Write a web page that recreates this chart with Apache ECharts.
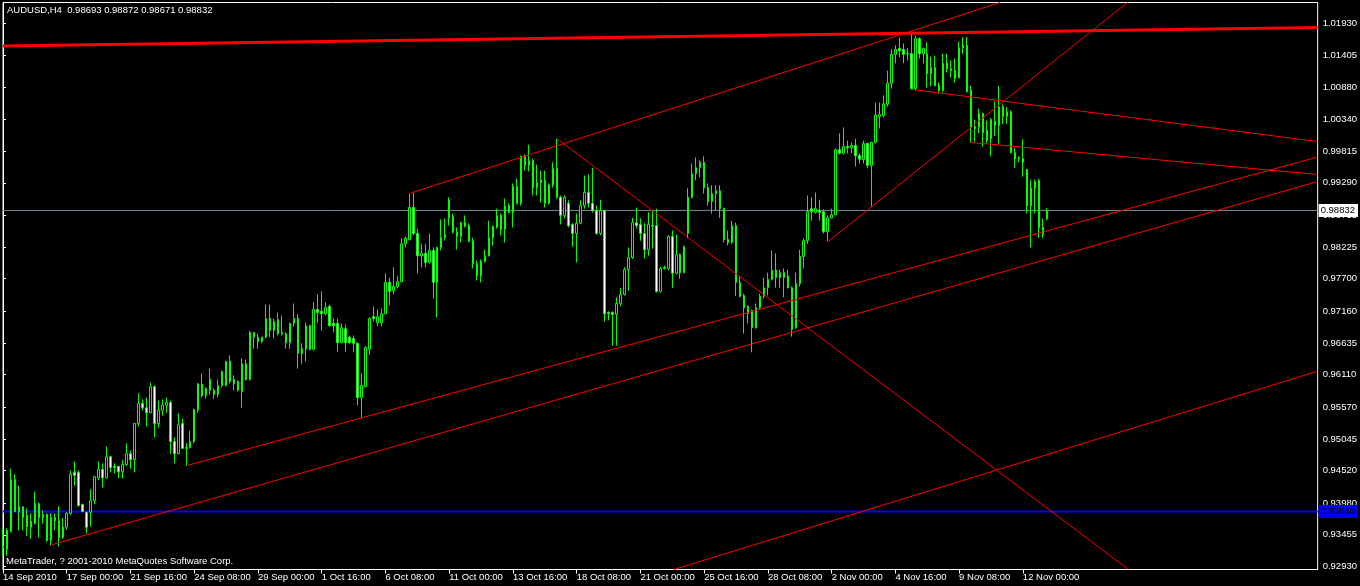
<!DOCTYPE html>
<html><head><meta charset="utf-8">
<script src="https://cdn.jsdelivr.net/npm/echarts@6/dist/echarts.min.js"></script>
<style>html,body{margin:0;padding:0;background:#000;}#c{width:1360px;height:586px;}</style>
</head><body><div id="c"></div>
<script>
const opens = [
0.9328,0.9321,0.9351,0.9437,0.9392,0.9392,0.9378,0.9358,0.9364,0.9397,
0.9379,0.9379,0.9336,0.9374,0.9369,0.9341,0.9358,0.9381,0.9449,0.9449,
0.9396,0.9383,0.9383,0.9402,0.9440,0.9454,0.9440,0.9475,0.9459,0.9459,
0.9450,0.9462,0.9480,0.9470,0.9530,0.9563,0.9556,0.9548,0.9591,0.9530,
0.9552,0.9560,0.9565,0.9500,0.9480,0.9530,0.9489,0.9490,0.9500,0.9552,
0.9595,0.9576,0.9603,0.9578,0.9578,0.9593,0.9593,0.9633,0.9603,0.9600,
0.9583,0.9629,0.9603,0.9681,0.9673,0.9666,0.9673,0.9704,0.9684,0.9702,
0.9681,0.9679,0.9664,0.9696,0.9704,0.9646,0.9653,0.9692,0.9653,0.9719,
0.9716,0.9712,0.9724,0.9696,0.9696,0.9664,0.9687,0.9673,0.9671,0.9663,
0.9573,0.9591,0.9653,0.9707,0.9697,0.9697,0.9712,0.9764,0.9750,0.9757,
0.9765,0.9828,0.9835,0.9888,0.9845,0.9808,0.9812,0.9797,0.9817,0.9764,
0.9822,0.9838,0.9900,0.9873,0.9847,0.9840,0.9863,0.9858,0.9833,0.9795,
0.9775,0.9799,0.9808,0.9838,0.9855,0.9875,0.9852,0.9891,0.9880,0.9923,
0.9895,0.9973,0.9958,0.9966,0.9921,0.9929,0.9933,0.9895,0.9925,0.9953,
0.9905,0.9875,0.9895,0.9860,0.9845,0.9862,0.9891,0.9913,0.9895,0.9883,
0.9845,0.9883,0.9714,0.9714,0.9711,0.9729,0.9744,0.9785,0.9805,0.9863,
0.9860,0.9845,0.9818,0.9858,0.9858,0.9749,0.9787,0.9787,0.9840,0.9779,
0.9810,0.9780,0.9845,0.9905,0.9944,0.9954,0.9963,0.9921,0.9898,0.9911,
0.9916,0.9886,0.9835,0.9830,0.9858,0.9764,0.9742,0.9724,0.9717,0.9689,
0.9722,0.9741,0.9755,0.9769,0.9784,0.9780,0.9780,0.9774,0.9755,0.9689,
0.9762,0.9807,0.9833,0.9886,0.9880,0.9883,0.9881,0.9848,0.9871,0.9876,
0.9984,0.9978,0.9989,0.9987,0.9991,0.9974,0.9968,0.9994,0.9958,0.9996,
1.0039,1.0041,1.0059,1.0094,1.0142,1.0152,1.0150,1.0143,1.0143,1.0085,
1.0168,1.0143,1.0143,1.0110,1.0120,1.0090,1.0082,1.0127,1.0118,1.0115,
1.0103,1.0157,1.0157,1.0082,1.0022,1.0021,1.0044,1.0016,1.0002,1.0024,
1.0024,1.0055,1.0039,1.0047,0.9979,0.9971,0.9969,0.9951,0.9891,0.9920,
0.9933,0.9855,0.98693];
const highs = [
0.9356,0.9356,0.9455,0.9446,0.9427,0.9393,0.9389,0.9381,0.9417,0.9399,
0.9386,0.9381,0.9381,0.9381,0.9393,0.9373,0.9383,0.9452,0.9467,0.9452,
0.9397,0.9383,0.9421,0.9442,0.9467,0.9464,0.9492,0.9477,0.9464,0.9460,
0.9470,0.9497,0.9485,0.9531,0.9580,0.9570,0.9573,0.9598,0.9593,0.9568,
0.9570,0.9573,0.9568,0.9507,0.9547,0.9538,0.9497,0.9518,0.9555,0.9597,
0.9613,0.9590,0.9621,0.9588,0.9603,0.9618,0.9634,0.9643,0.9610,0.9601,
0.9638,0.9636,0.9684,0.9682,0.9679,0.9674,0.9727,0.9727,0.9704,0.9714,
0.9709,0.9681,0.9697,0.9729,0.9711,0.9663,0.9697,0.9694,0.9731,0.9744,
0.9749,0.9731,0.9727,0.9704,0.9704,0.9696,0.9694,0.9676,0.9676,0.9664,
0.9613,0.9658,0.9706,0.9724,0.9719,0.9721,0.9779,0.9772,0.9789,0.9775,
0.9837,0.9840,0.9911,0.9913,0.9853,0.9828,0.9828,0.9845,0.9822,0.9823,
0.9868,0.9870,0.9905,0.9878,0.9855,0.9865,0.9875,0.9862,0.9838,0.9800,
0.9802,0.9818,0.9866,0.9858,0.9886,0.9878,0.9903,0.9895,0.9928,0.9936,
0.9974,0.9976,0.9992,0.9969,0.9959,0.9949,0.9949,0.9928,0.9963,1.0002,
0.9908,0.9908,0.9900,0.9862,0.9878,0.9900,0.9941,0.9943,0.9954,0.9891,
0.9901,0.9884,0.9716,0.9716,0.9739,0.9755,0.9789,0.9822,0.9871,0.9888,
0.9870,0.9862,0.9880,0.9883,0.9886,0.9790,0.9792,0.9842,0.9850,0.9843,
0.9812,0.9825,0.9920,0.9961,0.9971,0.9966,0.9973,0.9928,0.9925,0.9925,
0.9925,0.9888,0.9850,0.9866,0.9863,0.9774,0.9745,0.9726,0.9719,0.9729,
0.9745,0.9772,0.9780,0.9817,0.9812,0.9785,0.9787,0.9785,0.9757,0.9780,
0.9818,0.9837,0.9908,0.9905,0.9913,0.9901,0.9885,0.9875,0.9886,0.9986,
1.0011,1.0021,0.9999,0.9996,1.0002,0.9978,0.9999,0.9996,0.9997,1.0062,
1.0062,1.0074,1.0115,1.0150,1.0157,1.0170,1.0160,1.0152,1.0178,1.0173,
1.0170,1.0153,1.0162,1.0138,1.0140,1.0095,1.0143,1.0143,1.0132,1.0135,
1.0163,1.0170,1.0171,1.0090,1.0034,1.0052,1.0045,1.0032,1.0036,1.0064,
1.0090,1.0059,1.0054,1.0049,0.9987,0.9973,1.0001,0.9952,0.9934,0.9934,
0.9936,0.9870,0.98872];
const lows = [
0.9310,0.9311,0.9349,0.9383,0.9353,0.9353,0.9344,0.9339,0.9363,0.9341,
0.9364,0.9334,0.9328,0.9353,0.9326,0.9339,0.9354,0.9378,0.9427,0.9392,
0.9383,0.9348,0.9359,0.9396,0.9436,0.9424,0.9439,0.9449,0.9447,0.9439,
0.9439,0.9460,0.9455,0.9449,0.9525,0.9552,0.9525,0.9547,0.9507,0.9523,
0.9543,0.9548,0.9480,0.9464,0.9479,0.9487,0.9460,0.9489,0.9497,0.9548,
0.9573,0.9571,0.9578,0.9571,0.9573,0.9590,0.9591,0.9596,0.9585,0.9583,
0.9556,0.9601,0.9601,0.9654,0.9654,0.9663,0.9671,0.9673,0.9671,0.9676,
0.9676,0.9654,0.9654,0.9691,0.9621,0.9629,0.9633,0.9651,0.9651,0.9697,
0.9684,0.9709,0.9691,0.9681,0.9649,0.9663,0.9649,0.9663,0.9648,0.9560,
0.9540,0.9590,0.9644,0.9699,0.9691,0.9691,0.9711,0.9726,0.9744,0.9754,
0.9764,0.9822,0.9833,0.9842,0.9779,0.9789,0.9789,0.9795,0.9737,0.9706,
0.9817,0.9833,0.9858,0.9845,0.9818,0.9830,0.9855,0.9830,0.9787,0.9767,
0.9764,0.9797,0.9807,0.9825,0.9853,0.9842,0.9830,0.9878,0.9855,0.9893,
0.9891,0.9949,0.9948,0.9908,0.9908,0.9896,0.9888,0.9893,0.9921,0.9903,
0.9860,0.9870,0.9855,0.9823,0.9797,0.9860,0.9886,0.9888,0.9880,0.9843,
0.9842,0.9699,0.9701,0.9659,0.9659,0.9724,0.9742,0.9750,0.9803,0.9853,
0.9833,0.9803,0.9808,0.9820,0.9747,0.9747,0.9785,0.9784,0.9755,0.9777,
0.9770,0.9779,0.9837,0.9903,0.9933,0.9938,0.9911,0.9891,0.9878,0.9883,
0.9871,0.9830,0.9825,0.9828,0.9741,0.9739,0.9679,0.9696,0.9648,0.9687,
0.9720,0.9737,0.9742,0.9767,0.9755,0.9755,0.9739,0.9754,0.9674,0.9687,
0.9757,0.9787,0.9828,0.9866,0.9878,0.9866,0.9845,0.9832,0.9870,0.9875,
0.9976,0.9976,0.9978,0.9978,0.9956,0.9961,0.9961,0.9953,0.9890,0.9994,
1.0019,1.0037,1.0055,1.0085,1.0127,1.0137,1.0127,1.0132,1.0084,1.0082,
1.0135,1.0127,1.0087,1.0089,1.0089,1.0077,1.0079,1.0112,1.0103,1.0095,
1.0102,1.0143,1.0079,0.9996,0.9997,1.0011,0.9989,0.9994,0.9973,1.0007,
0.9994,1.0026,1.0027,0.9978,0.9954,0.9963,0.9939,0.9878,0.9822,0.9878,
0.9838,0.9838,0.98671];
const closes = [
0.9323,0.9353,0.9437,0.9384,0.9384,0.9374,0.9359,0.9368,0.9397,0.9374,
0.9374,0.9336,0.9374,0.9369,0.9341,0.9358,0.9381,0.9446,0.9444,0.9394,
0.9384,0.9358,0.9402,0.9442,0.9454,0.9440,0.9475,0.9457,0.9457,0.9450,
0.9462,0.9480,0.9470,0.9530,0.9563,0.9556,0.9548,0.9591,0.9530,0.9552,
0.9560,0.9565,0.9500,0.9480,0.9528,0.9489,0.9490,0.9500,0.9553,0.9596,
0.9576,0.9588,0.9585,0.9585,0.9593,0.9616,0.9633,0.9600,0.9596,0.9585,
0.9629,0.9603,0.9681,0.9673,0.9666,0.9673,0.9704,0.9684,0.9699,0.9679,
0.9679,0.9664,0.9696,0.9704,0.9646,0.9654,0.9692,0.9653,0.9719,0.9714,
0.9712,0.9722,0.9692,0.9692,0.9664,0.9689,0.9664,0.9664,0.9663,0.9573,
0.9593,0.9656,0.9704,0.9704,0.9707,0.9712,0.9764,0.9749,0.9757,0.9765,
0.9828,0.9837,0.9888,0.9845,0.9808,0.9812,0.9797,0.9817,0.9764,0.9822,
0.9838,0.9843,0.9871,0.9847,0.9840,0.9863,0.9857,0.9832,0.9795,0.9775,
0.9799,0.9808,0.9838,0.9857,0.9875,0.9852,0.9891,0.9880,0.9923,0.9895,
0.9973,0.9958,0.9966,0.9921,0.9929,0.9934,0.9895,0.9925,0.9953,0.9905,
0.9875,0.9905,0.9858,0.9845,0.9862,0.9891,0.9913,0.9895,0.9883,0.9845,
0.9883,0.9712,0.9712,0.9711,0.9729,0.9744,0.9785,0.9805,0.9863,0.9858,
0.9845,0.9818,0.9860,0.9857,0.9749,0.9787,0.9789,0.9840,0.9779,0.9810,
0.9780,0.9823,0.9905,0.9944,0.9954,0.9963,0.9921,0.9898,0.9911,0.9916,
0.9886,0.9835,0.9830,0.9858,0.9764,0.9741,0.9722,0.9712,0.9689,0.9722,
0.9741,0.9755,0.9769,0.9784,0.9772,0.9772,0.9772,0.9755,0.9686,0.9762,
0.9807,0.9833,0.9881,0.9881,0.9886,0.9880,0.9848,0.9871,0.9876,0.9984,
0.9978,0.9989,0.9987,0.9991,0.9974,0.9968,0.9994,0.9958,0.9996,1.0041,
1.0042,1.0060,1.0094,1.0142,1.0150,1.0148,1.0142,1.0144,1.0085,1.0168,
1.0143,1.0152,1.0110,1.0120,1.0090,1.0082,1.0127,1.0118,1.0115,1.0102,
1.0153,1.0153,1.0080,1.0021,1.0019,1.0044,1.0012,0.9999,1.0034,1.0031,
1.0055,1.0039,1.0047,0.9979,0.9969,0.9969,0.9963,0.9891,0.9920,0.9931,
0.9855,0.9843,0.98832];

const tickLabels = ['14 Sep 2010','17 Sep 00:00','21 Sep 16:00','24 Sep 08:00','29 Sep 00:00','1 Oct 16:00','6 Oct 08:00','11 Oct 00:00','13 Oct 16:00','18 Oct 08:00','21 Oct 00:00','25 Oct 16:00','28 Oct 08:00','2 Nov 00:00','4 Nov 16:00','9 Nov 08:00','12 Nov 00:00'];
const priceTicks = [0.92930,0.93455,0.93980,0.94520,0.95045,0.95570,0.96110,0.96635,0.97160,0.97700,0.98225,0.98755,0.99290,0.99815,1.00340,1.00880,1.01405,1.01930];

// trend lines: [startBar, startPrice, endBar, endPrice, width]
const trendLines = [
  [0, 1.01557, 330, 1.01864, 3],
  [102.2, 0.99117, 250.25, 1.02278, 1],
  [139.1, 1.0002, 282.5, 0.9288, 1],
  [46.2, 0.94604, 330, 0.99717, 1],
  [12.2, 0.93289, 330, 0.99311, 1],
  [168.4, 0.9288, 330, 0.96167, 1],
  [207.2, 0.98321, 282.25, 1.02278, 1],
  [228, 1.0084, 330, 0.99974, 1],
  [243, 0.9996, 330, 0.99427, 1]
];
const bidPrice = 0.98832;
const hLinePrice = 0.93840;
const titleText = 'AUDUSD,H4  0.98693 0.98872 0.98671 0.98832';
const footerText = 'MetaTrader, ? 2001-2010 MetaQuotes Software Corp.';

const slotCount = 331;
const cats = Array.from({length: slotCount}, (_, i) => String(i));
const candleData = opens.map((o, i) => [o, closes[i], lows[i], highs[i]]);
function labelAt(i) {
  if (i % 16 === 0 && i / 16 < tickLabels.length && i < opens.length) return tickLabels[i / 16];
  return null;
}
const FONT = 'Liberation Sans';
const FS = 9.5;

const series = [{
  type: 'candlestick',
  data: candleData,
  barWidth: 2,
  z: 2,
  itemStyle: {color: '#000000', color0: '#ffffff', borderColor: '#00ff00', borderColor0: '#00ff00', borderWidth: 1}
}];
function hLine(price, color, width, labelBg) {
  return {
    type: 'line', xAxisIndex: 1, yAxisIndex: 0, silent: true, symbol: 'none', z: 1,
    data: [[0, price], [slotCount - 1, price]],
    lineStyle: {color: color, width: width},
    endLabel: {show: true, formatter: price.toFixed(5), color: '#000000', backgroundColor: labelBg,
      padding: [2, 3, 1, 2], distance: 1, fontSize: FS, fontFamily: FONT}
  };
}
series.push(hLine(bidPrice, '#778899', 1, '#ffffff'));
series.push(hLine(hLinePrice, '#0000ff', 2, '#0000ff'));
trendLines.forEach(t => {
  series.push({
    type: 'line', xAxisIndex: 1, yAxisIndex: 0, silent: true, symbol: 'none', z: 3,
    data: [[t[0], t[1]], [t[2], t[3]]],
    lineStyle: {color: '#ff0000', width: t[4]}
  });
});

const chart = echarts.init(document.getElementById('c'));
chart.setOption({
  backgroundColor: '#000000',
  animation: false,
  grid: {left: 2.5, right: 37.5, top: 2.5, bottom: 16.5, show: true, borderColor: '#ffffff', borderWidth: 1, backgroundColor: 'transparent'},
  xAxis: [{
    type: 'category', data: cats, boundaryGap: false,
    axisLine: {show: true, lineStyle: {color: '#ffffff', width: 1}},
    axisTick: {show: true, interval: (i) => labelAt(i) !== null, length: 4, lineStyle: {color: '#ffffff'}},
    axisLabel: {interval: (i) => labelAt(i) !== null, formatter: (v, i) => labelAt(i) || '', color: '#ffffff', fontSize: FS, fontFamily: FONT, align: 'left', margin: 3},
    splitLine: {show: false}
  }, {
    type: 'value', min: 0, max: slotCount - 1, show: false
  }],
  yAxis: [{
    type: 'value', position: 'right', min: 0.92880, max: 1.02279,
    axisLine: {show: true, lineStyle: {color: '#ffffff'}},
    axisTick: {show: true, customValues: priceTicks, length: 3, lineStyle: {color: '#ffffff'}},
    axisLabel: {customValues: priceTicks, formatter: v => v.toFixed(5), color: '#ffffff', fontSize: FS, fontFamily: FONT, margin: 5},
    splitLine: {show: false}
  }],
  graphic: [
    {type: 'text', left: 7, top: 5, z: 10, style: {text: titleText, fill: '#ffffff', font: FS + 'px "' + FONT + '"'}},
    {type: 'text', left: 6, top: 556, z: 10, style: {text: footerText, fill: '#ffffff', font: FS + 'px "' + FONT + '"'}}
  ],
  series: series
});
</script>
</body></html>
